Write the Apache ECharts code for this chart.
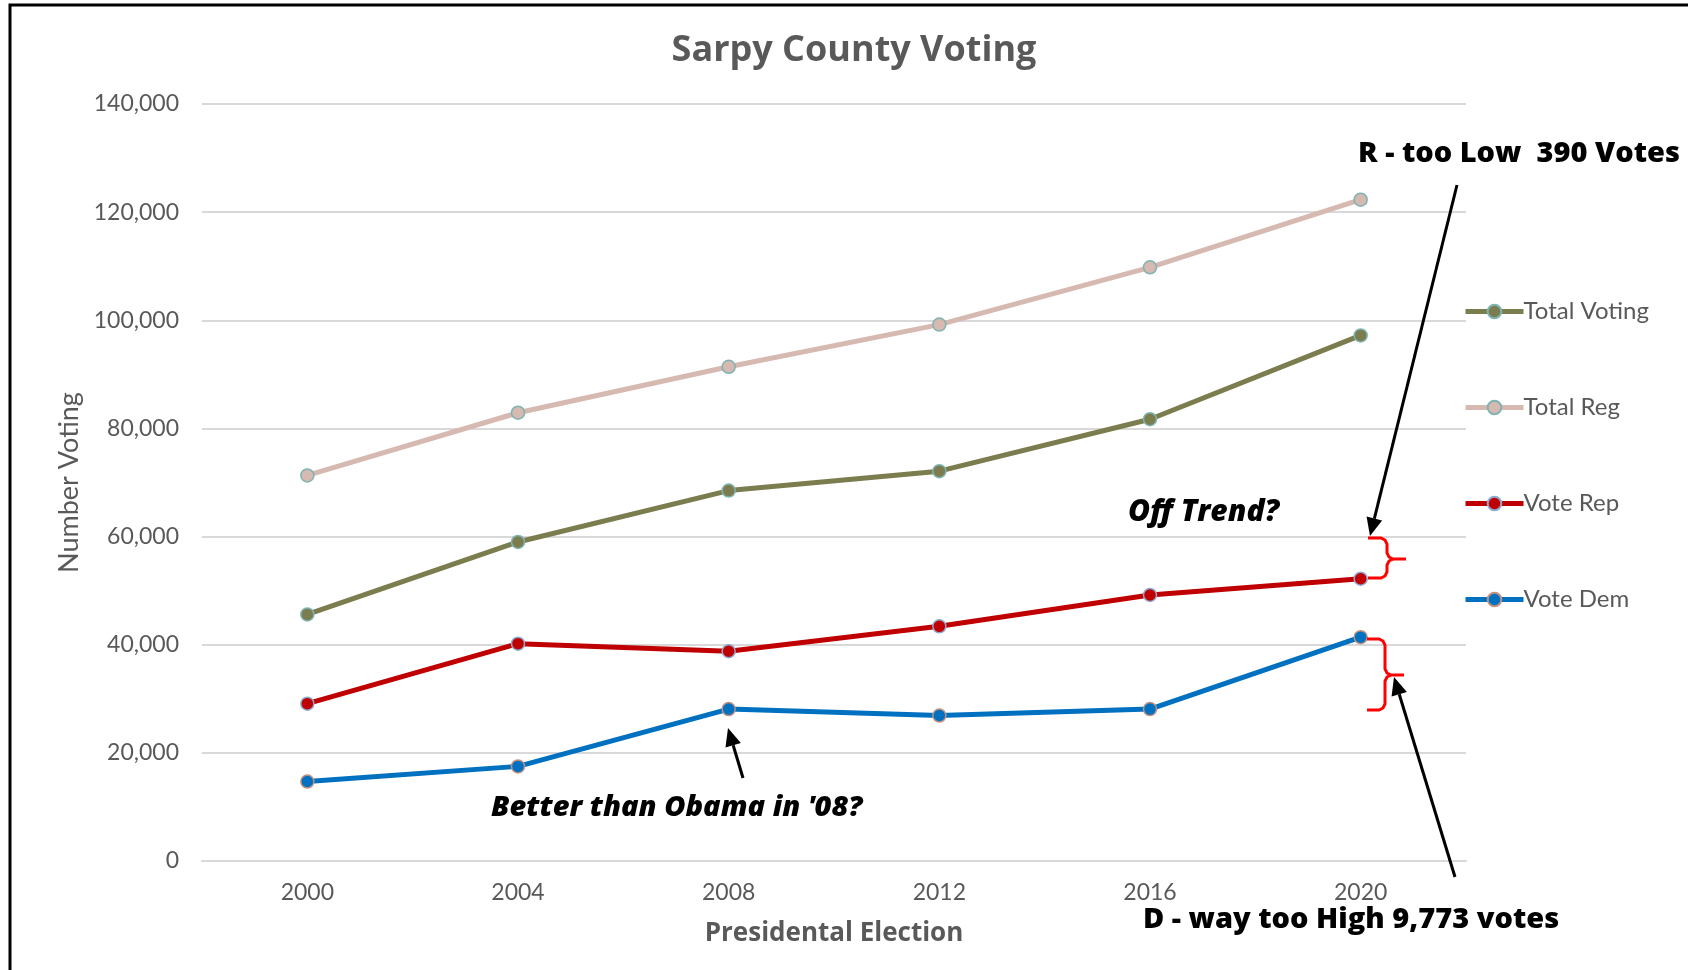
<!DOCTYPE html>
<html>
<head>
<meta charset="utf-8">
<script src="https://cdn.jsdelivr.net/npm/echarts@6/dist/echarts.min.js"></script>
<style>html,body{margin:0;padding:0;background:#fff}#c{width:1688px;height:970px}</style>
</head>
<body>
<div id="c"></div>
<script>
const years = ['2000','2004','2008','2012','2016','2020'];
const totalVoting = [45600, 59000, 68500, 72100, 81700, 97200];
const totalReg = [71300, 82900, 91400, 99200, 109800, 122300];
const voteRep = [29100, 40200, 38800, 43400, 49200, 52200];
const voteDem = [14700, 17500, 28100, 26900, 28100, 41400];
const yTicks = [0, 20000, 40000, 60000, 80000, 100000, 120000, 140000];

const gray = '#595959';
const labelFont = 'Lato';
const noteFont = 'Open Sans';

function arrow(x1, y1, x2, y2) {
  const ang = Math.atan2(y2 - y1, x2 - x1);
  const L = 18, W = 8;
  const bx = x2 - L * Math.cos(ang), by = y2 - L * Math.sin(ang);
  const px = -Math.sin(ang) * W, py = Math.cos(ang) * W;
  return [
    {type: 'line', shape: {x1: x1, y1: y1, x2: bx, y2: by}, style: {stroke: '#000', lineWidth: 3}, z: 100},
    {type: 'polygon', shape: {points: [[x2, y2], [bx + px, by + py], [bx - px, by - py]]}, style: {fill: '#000'}, z: 100}
  ];
}
function brace(xl, xv, xt, yt, ym, yb) {
  const r = 6;
  const st = {stroke: '#ff0000', lineWidth: 3, fill: null};
  return [
    {type: 'polyline', shape: {points: [[xl, yt], [xv - r, yt], [xv - 2, yt + 2], [xv, yt + r], [xv, ym - r], [xv + 2, ym - 2], [xv + r, ym], [xt, ym]]}, style: st, z: 100},
    {type: 'polyline', shape: {points: [[xv + r, ym], [xv + 2, ym + 2], [xv, ym + r], [xv, yb - r], [xv - 2, yb - 2], [xv - r, yb], [xl, yb]]}, style: st, z: 100}
  ];
}
function txt(x, y, s, italic, size) {
  return {type: 'text', x: x, y: y, z: 100, style: {text: s, fill: '#000', font: (italic ? 'italic ' : '') + '800 ' + size + 'px "' + noteFont + '"', textVerticalAlign: 'middle', textAlign: 'left'}};
}

const graphics = [
  {type: 'rect', shape: {x: 10, y: 5, width: 1700, height: 1000}, style: {fill: null, stroke: '#000', lineWidth: 3}, z: 0},
  txt(1358, 154, 'R - too Low  390 Votes', false, 29),
  txt(1128, 512, 'Off Trend?', true, 30),
  txt(1143, 920, 'D - way too High 9,773 votes', false, 29),
  txt(491, 808, "Better than Obama in '08?", true, 29),
  ...arrow(1457, 185, 1370, 536),
  ...arrow(1455, 877, 1394, 677),
  ...arrow(743, 778, 728, 728),
  ...brace(1368, 1387, 1406, 538, 559, 578),
  ...brace(1367, 1385, 1404, 639, 675, 710)
];

function mk(name, data, color, border) {
  return {
    name: name, type: 'line', data: data,
    symbol: 'circle', symbolSize: 13,
    lineStyle: {color: color, width: 5},
    itemStyle: {color: color, borderColor: border, borderWidth: 1.5},
    emphasis: {disabled: true}
  };
}

const chart = echarts.init(document.getElementById('c'));
chart.setOption({
  backgroundColor: '#fff',
  animation: false,
  title: {
    text: 'Sarpy County Voting', left: 849, textAlign: 'center', top: 28,
    textStyle: {fontFamily: noteFont, fontWeight: 'bold', fontSize: 36, color: gray}
  },
  grid: {left: 202, right: 222, top: 104, bottom: 109},
  legend: {
    orient: 'vertical', left: 1458, top: 294,
    itemWidth: 58, itemHeight: 17, itemGap: 71,
    lineStyle: {width: 5},
    textStyle: {fontFamily: labelFont, fontSize: 24, color: gray, lineHeight: 25, padding: [0, 0, 0, -5]},
    data: ['Total Voting', 'Total Reg', 'Vote Rep', 'Vote Dem']
  },
  xAxis: {
    type: 'category', data: years, boundaryGap: true,
    axisLine: {lineStyle: {color: '#d9d9d9', width: 2}},
    axisTick: {show: false},
    axisLabel: {fontFamily: labelFont, fontSize: 23, color: gray, margin: 20},
    name: 'Presidental Election', nameLocation: 'middle', nameGap: 60,
    nameTextStyle: {fontFamily: noteFont, fontWeight: 'bold', fontSize: 26, color: gray}
  },
  yAxis: {
    type: 'value', min: 0, max: 140000, interval: 20000,
    axisLine: {show: false}, axisTick: {show: false},
    splitLine: {lineStyle: {color: '#d9d9d9', width: 2}},
    axisLabel: {fontFamily: labelFont, fontSize: 23, color: gray, margin: 23,
      formatter: v => yTicks.includes(v) ? v.toLocaleString('en-US') : ''},
    name: 'Number Voting', nameLocation: 'middle', nameRotate: 90, nameGap: 119,
    nameTextStyle: {fontFamily: labelFont, fontSize: 27, color: gray}
  },
  series: [
    mk('Total Voting', totalVoting, '#7b7d4e', '#7fb3b3'),
    mk('Total Reg', totalReg, '#d6b9b0', '#7fb3b3'),
    mk('Vote Rep', voteRep, '#c00000', '#8fa8d0'),
    mk('Vote Dem', voteDem, '#0070c0', '#c09080')
  ],
  graphic: graphics
});
</script>
</body>
</html>
